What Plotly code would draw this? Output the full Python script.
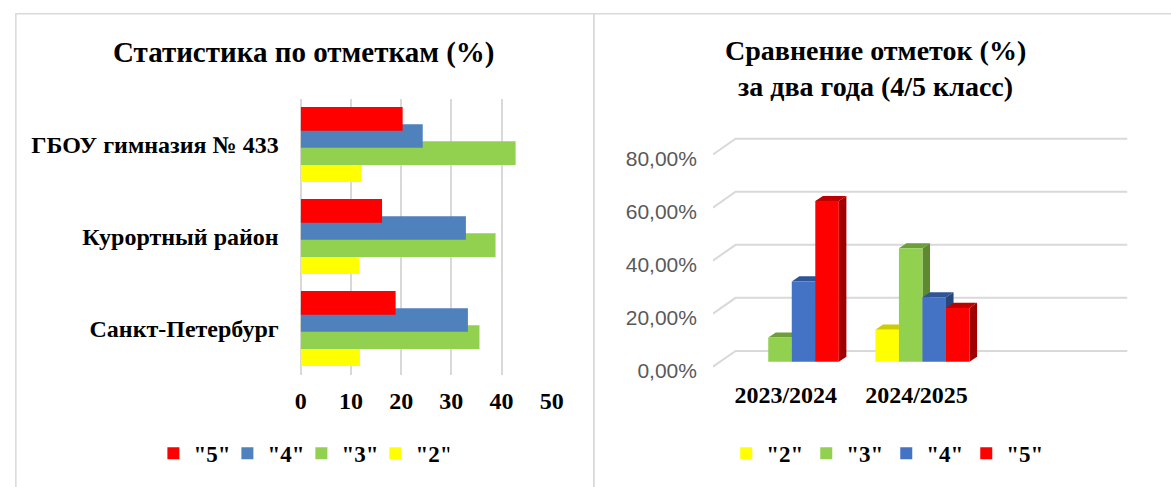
import plotly.graph_objects as go

# ---------------- data ----------------
schools = ["ГБОУ гимназия № 433", "Курортный район", "Санкт-Петербург"]
grade5_pct = [20.3, 16.2, 18.9]
grade4_pct = [24.3, 32.9, 33.3]
grade3_pct = [42.8, 38.8, 35.6]
grade2_pct = [12.1, 11.7, 11.8]
left_xticks = [0, 10, 20, 30, 40, 50]

years = ["2023/2024", "2024/2025"]
yr_grade2 = [0.0, 12.1]
yr_grade3 = [9.1, 42.8]
yr_grade4 = [30.3, 24.3]
yr_grade5 = [60.6, 20.3]
right_ytick_vals = [0, 20, 40, 60, 80]
right_ytick_text = ["0,00%", "20,00%", "40,00%", "60,00%", "80,00%"]

names = ['"2"', '"3"', '"4"', '"5"']

# ---------------- style ----------------
W, H = 1171, 487
SERIF = "Liberation Serif"
SANS = "Liberation Sans"
GRID = "#D9D9D9"

def px_x(p):
    return p / W

def px_y(p):
    return (H - p) / H

left_colors = ["#FFFF00", "#92D050", "#4F81BD", "#FF0000"]
right_colors = ["#FFFF00", "#92D050", "#4472C4", "#FF0000"]
top_colors = ["#CCCC00", "#6E9E3A", "#2F5597", "#C00000"]
side_colors = ["#B3B300", "#5E8A2F", "#27467E", "#A00000"]

left_offsets = [-0.4075, -0.2215, -0.0355, 0.1505]
left_width = 0.257

right_offsets = [-0.36, -0.18, 0.0, 0.18]
right_width = 0.18
right_xrange = [-0.603, 2.569]
right_yrange = [-4.83, 88.1]
bar_dx, bar_dy = 0.058, 1.9          # depth of 3D bars (axis units)
grid_dx, grid_front, grid_back = 0.173, -1.86, 4.09  # perspective floor/wall lines

fig = go.Figure()

# ---------------- left chart ----------------
left_series = [grade2_pct, grade3_pct, grade4_pct, grade5_pct]
for i, vals in enumerate(left_series):
    fig.add_trace(go.Bar(
        y=schools, x=vals, orientation="h", name=names[i],
        marker=dict(color=left_colors[i], line=dict(width=0)),
        offset=left_offsets[i], width=left_width,
        xaxis="x", yaxis="y", legend="legend",
    ))

# ---------------- right chart: perspective gridlines (bottom layer) ----------------
gx, gy = [], []
for v in right_ytick_vals:
    gx += [right_xrange[0], right_xrange[0] + grid_dx, right_xrange[1], None]
    gy += [v + grid_front, v + grid_back, v + grid_back, None]
fig.add_trace(go.Scatter(x=gx, y=gy, mode="lines", line=dict(color=GRID, width=2),
                         showlegend=False, hoverinfo="skip", xaxis="x2", yaxis="y2"))

# 3D faces (top + side) derived from the data
right_series = [yr_grade2, yr_grade3, yr_grade4, yr_grade5]
for i, vals in enumerate(right_series):
    sx, sy, tx, ty = [], [], [], []
    for k, v in enumerate(vals):
        if v <= 0:
            continue
        xl = k + right_offsets[i]
        xr = xl + right_width
        sx += [xr, xr + bar_dx, xr + bar_dx, xr, xr, None]
        sy += [0, bar_dy, v + bar_dy, v, 0, None]
        tx += [xl, xl + bar_dx, xr + bar_dx, xr, xl, None]
        ty += [v, v + bar_dy, v + bar_dy, v, v, None]
    fig.add_trace(go.Scatter(x=sx, y=sy, mode="lines", fill="toself",
                             fillcolor=side_colors[i], line=dict(width=0, color=side_colors[i]),
                             showlegend=False, hoverinfo="skip", xaxis="x2", yaxis="y2"))
    fig.add_trace(go.Scatter(x=tx, y=ty, mode="lines", fill="toself",
                             fillcolor=top_colors[i], line=dict(width=0, color=top_colors[i]),
                             showlegend=False, hoverinfo="skip", xaxis="x2", yaxis="y2"))

# front faces (top layer)
year_pos = list(range(len(years)))
for i, vals in enumerate(right_series):
    fig.add_trace(go.Bar(
        x=year_pos, y=vals, name=names[i],
        marker=dict(color=right_colors[i], line=dict(width=0)),
        offset=right_offsets[i], width=right_width,
        xaxis="x3", yaxis="y3", legend="legend2",
    ))

bold_serif = lambda s: dict(family=SERIF, size=s, color="#000000", weight="bold")

fig.update_layout(
    width=W, height=H,
    margin=dict(l=0, r=0, t=0, b=0),
    paper_bgcolor="white", plot_bgcolor="rgba(0,0,0,0)",
    barmode="overlay",
    showlegend=True,
    xaxis=dict(domain=[px_x(299.3), px_x(554.3)], range=[0, 50], tickvals=left_xticks,
               showgrid=True, gridcolor=GRID, gridwidth=2, zeroline=True,
               zerolinecolor=GRID, zerolinewidth=2, showline=False, ticks="",
               tickfont=bold_serif(24), ticklabelstandoff=9, anchor="y", fixedrange=True),
    yaxis=dict(domain=[px_y(380), px_y(100)], type="category",
               categoryorder="array", categoryarray=schools[::-1], range=[-0.5, 2.5],
               showgrid=False, zeroline=False, showline=False, ticks="",
               tickfont=bold_serif(24), ticklabelstandoff=21, anchor="x"),
    xaxis2=dict(domain=[px_x(718), px_x(1139)], range=right_xrange,
                tickvals=year_pos, ticktext=years, showgrid=False, zeroline=False,
                showline=False, ticks="", tickfont=bold_serif(24),
                ticklabelstandoff=3, ticklabelshift=-6, anchor="y2"),
    yaxis2=dict(domain=[px_y(380), px_y(130)], range=right_yrange,
                tickvals=right_ytick_vals, ticktext=right_ytick_text,
                showgrid=False, zeroline=False, showline=False, ticks="",
                tickfont=dict(family=SANS, size=21, color="#595959"),
                ticklabelstandoff=15, ticklabelshift=9, anchor="x2"),
    xaxis3=dict(overlaying="x2", range=right_xrange, visible=False, anchor="y3"),
    yaxis3=dict(overlaying="y2", range=right_yrange, visible=False, anchor="x3"),
    legend=dict(orientation="h", x=px_x(300), y=px_y(460), xanchor="center",
                yanchor="middle", traceorder="reversed", font=bold_serif(23),
                entrywidth=29, entrywidthmode="pixels",
                bgcolor="rgba(0,0,0,0)"),
    legend2=dict(orientation="h", x=px_x(894), y=px_y(460), xanchor="center",
                 yanchor="middle", traceorder="normal", font=bold_serif(23),
                 entrywidth=35, entrywidthmode="pixels",
                 bgcolor="rgba(0,0,0,0)"),
    annotations=[
        dict(text="Статистика по отметкам (%)", x=px_x(303), y=px_y(53),
             xref="paper", yref="paper", showarrow=False, xanchor="center",
             yanchor="middle", font=bold_serif(29)),
        dict(text="Сравнение отметок (%)<br>за два года (4/5 класс)", x=px_x(883),
             y=px_y(70), xref="paper", yref="paper", showarrow=False,
             xanchor="center", yanchor="middle", font=bold_serif(28)),
    ],
    shapes=[
        dict(type="rect", xref="paper", yref="paper", x0=px_x(10), x1=px_x(597),
             y0=-0.2, y1=px_y(14), line=dict(color=GRID, width=1.5), layer="below"),
        dict(type="rect", xref="paper", yref="paper", x0=px_x(597), x1=1.2,
             y0=-0.2, y1=px_y(14), line=dict(color=GRID, width=1.5), layer="below"),
    ],
)

fig.write_html("out.html", config={"displayModeBar": False},
               post_script="document.body.style.margin='0';document.body.style.overflow='hidden';")
